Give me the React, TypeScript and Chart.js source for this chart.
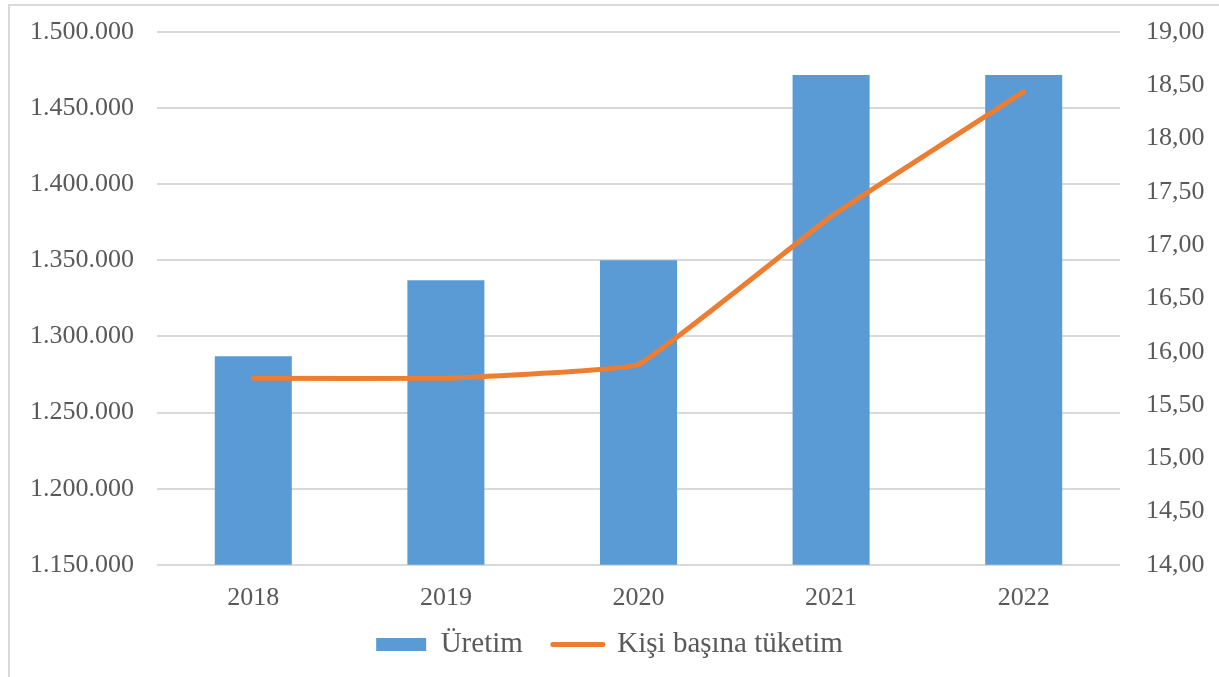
import React, { useEffect, useRef } from "react";
import { Chart, registerables } from "chart.js";

Chart.register(...registerables);

const categories = ["2018", "2019", "2020", "2021", "2022"];
const uretim = [1287000, 1337000, 1350000, 1471800, 1471800];
const kisiBasina = [15.75, 15.75, 15.88, 17.27, 18.44];
const seriesNames = ["Üretim", "Kişi başına tüketim"];

const FONT = "'Liberation Serif', 'Times New Roman', serif";
const FS = 26;
const LFS = 29;
const TEXT = "#595959";
const GRID = "#d9d9d9";
const BLUE = "#5b9bd5";
const ORANGE = "#ed7d31";

export default function App() {
  const ref = useRef<HTMLCanvasElement>(null);

  useEffect(() => {
    const canvas = ref.current;
    if (!canvas) return;
    const chart = new Chart(canvas, {
      type: "bar",
      data: {
        labels: categories,
        datasets: [
          {
            type: "line",
            label: seriesNames[1],
            data: kisiBasina,
            yAxisID: "y1",
            borderColor: ORANGE,
            backgroundColor: ORANGE,
            borderWidth: 5,
            pointRadius: 0,
            tension: 0.08,
            borderCapStyle: "round",
            borderJoinStyle: "round",
            order: 0,
          } as any,
          {
            type: "bar",
            label: seriesNames[0],
            data: uretim,
            yAxisID: "y",
            backgroundColor: BLUE,
            borderWidth: 0,
            barPercentage: 0.4,
            categoryPercentage: 1,
            order: 1,
          },
        ],
      },
      options: {
        animation: false,
        responsive: false,
        maintainAspectRatio: false,
        layout: { padding: { top: 32, bottom: 8, left: 0, right: 0 } },
        plugins: {
          tooltip: { enabled: false },
          legend: {
            position: "bottom",
            labels: {
              font: { family: FONT, size: LFS },
              color: TEXT,
              usePointStyle: true,
              pointStyleWidth: 50,
              boxHeight: 13,
              padding: 30,
              generateLabels: () => [
                {
                  text: seriesNames[0],
                  fillStyle: BLUE,
                  strokeStyle: BLUE,
                  lineWidth: 0,
                  pointStyle: "rect",
                  datasetIndex: 1,
                  fontColor: TEXT,
                } as any,
                {
                  text: seriesNames[1],
                  fillStyle: ORANGE,
                  strokeStyle: ORANGE,
                  lineWidth: 5,
                  lineCap: "round",
                  pointStyle: "line",
                  datasetIndex: 0,
                  fontColor: TEXT,
                } as any,
              ],
            },
          },
        },
        scales: {
          x: {
            grid: { display: false, drawTicks: false },
            border: { display: false },
            ticks: { font: { family: FONT, size: FS }, color: TEXT, padding: 18 },
            afterFit: (s: any) => {
              s.height = s.height - 32;
              s._computeLabelArea = () => undefined;
            },
          },
          y: {
            position: "left",
            min: 1150000,
            max: 1500000,
            ticks: {
              stepSize: 50000,
              font: { family: FONT, size: FS },
              color: TEXT,
              padding: 23,
              callback: (v: any) =>
                Math.round(Number(v))
                  .toString()
                  .replace(/\B(?=(\d{3})+(?!\d))/g, "."),
            },
            grid: { color: GRID, lineWidth: 2, drawTicks: false },
            border: { display: false },
            afterFit: (s: any) => {
              s.width = 157;
              s.paddingTop = 0;
              s.paddingBottom = 0;
            },
          },
          y1: {
            position: "right",
            min: 14,
            max: 19,
            ticks: {
              stepSize: 0.5,
              font: { family: FONT, size: FS },
              color: TEXT,
              padding: 26,
              callback: (v: any) => Number(v).toFixed(2).replace(".", ","),
            },
            grid: { display: false, drawTicks: false },
            border: { display: false },
            afterFit: (s: any) => {
              s.width = 99;
              s.paddingTop = 0;
              s.paddingBottom = 0;
            },
          },
        },
      },
    });
    return () => chart.destroy();
  }, []);

  return (
    <div
      style={{
        position: "fixed",
        left: 0,
        top: 0,
        width: 1219,
        height: 677,
        overflow: "hidden",
        background: "#fff",
      }}
    >
      <div
        style={{
          position: "absolute",
          left: 8,
          top: 4,
          width: 1260,
          height: 720,
          border: "2px solid #d9d9d9",
          boxSizing: "border-box",
        }}
      />
      <canvas
        ref={ref}
        width={1219}
        height={677}
        style={{ position: "absolute", left: 0, top: 0, width: 1219, height: 677 }}
      />
    </div>
  );
}
